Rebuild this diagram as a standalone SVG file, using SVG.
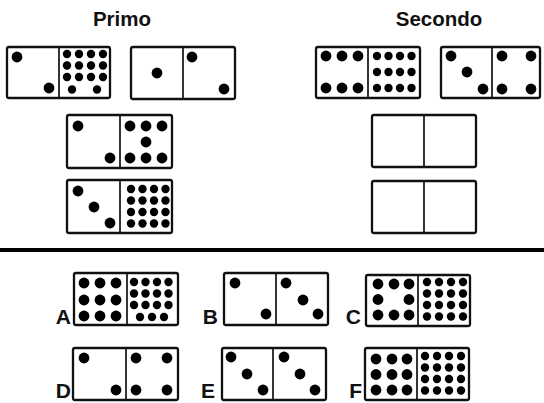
<svg xmlns="http://www.w3.org/2000/svg" width="544" height="403" viewBox="0 0 544 403">
<style>
.t{font-family:"Liberation Sans",Arial,sans-serif;font-weight:bold;fill:#111}
.h{font-size:20.5px;text-anchor:middle}
.l{font-size:21px;text-anchor:end}
.d{fill:#fff;stroke:#111;stroke-width:2.3}
.v{stroke:#111;stroke-width:1.7}
.p{fill:#000}
</style>
<rect width="544" height="403" fill="#fff"/>
<text class="t h" x="122" y="26">Primo</text>
<text class="t h" x="439" y="26">Secondo</text>
<line x1="0" y1="250" x2="544" y2="250" stroke="#000" stroke-width="4"/>

<g id="d1">
<rect class="d" x="7" y="47" width="103" height="51" rx="2"/><line class="v" x1="59" y1="47" x2="59" y2="98"/>
<g class="p"><circle cx="17" cy="57" r="5.4"/><circle cx="49" cy="88" r="5.4"/>
<circle cx="67" cy="54" r="4.2"/><circle cx="79" cy="54" r="4.2"/><circle cx="91" cy="54" r="4.2"/><circle cx="103" cy="54" r="4.2"/>
<circle cx="67" cy="65.5" r="4.2"/><circle cx="79" cy="65.5" r="4.2"/><circle cx="91" cy="65.5" r="4.2"/><circle cx="103" cy="65.5" r="4.2"/>
<circle cx="67" cy="77" r="4.2"/><circle cx="79" cy="77" r="4.2"/><circle cx="91" cy="77" r="4.2"/><circle cx="103" cy="77" r="4.2"/>
<circle cx="72" cy="89.5" r="4.2"/><circle cx="97" cy="89.5" r="4.2"/></g>
</g>

<g id="d2">
<rect class="d" x="131" y="47" width="104" height="52" rx="2"/><line class="v" x1="183" y1="47" x2="183" y2="99"/>
<g class="p"><circle cx="157" cy="73" r="5.4"/><circle cx="192" cy="57" r="5.4"/><circle cx="224" cy="89" r="5.4"/></g>
</g>

<g id="d3">
<rect class="d" x="316" y="47" width="104" height="51" rx="2"/><line class="v" x1="368" y1="47" x2="368" y2="98"/>
<g class="p"><circle cx="326" cy="56" r="5.4"/><circle cx="342" cy="56" r="5.4"/><circle cx="358" cy="56" r="5.4"/>
<circle cx="326" cy="88" r="5.4"/><circle cx="342" cy="88" r="5.4"/><circle cx="358" cy="88" r="5.4"/>
<circle cx="377" cy="56" r="4.2"/><circle cx="388.5" cy="56" r="4.2"/><circle cx="400" cy="56" r="4.2"/><circle cx="411.5" cy="56" r="4.2"/>
<circle cx="377" cy="72" r="4.2"/><circle cx="388.5" cy="72" r="4.2"/><circle cx="400" cy="72" r="4.2"/><circle cx="411.5" cy="72" r="4.2"/>
<circle cx="377" cy="88" r="4.2"/><circle cx="388.5" cy="88" r="4.2"/><circle cx="400" cy="88" r="4.2"/><circle cx="411.5" cy="88" r="4.2"/></g>
</g>

<g id="d4">
<rect class="d" x="441" y="47" width="99" height="51" rx="2"/><line class="v" x1="492" y1="47" x2="492" y2="98"/>
<g class="p"><circle cx="451" cy="56" r="5.4"/><circle cx="467" cy="72" r="5.4"/><circle cx="483" cy="89" r="5.4"/>
<circle cx="502" cy="56" r="5.4"/><circle cx="531" cy="56" r="5.4"/><circle cx="502" cy="89" r="5.4"/><circle cx="531" cy="89" r="5.4"/></g>
</g>

<g id="d5">
<rect class="d" x="67" y="115" width="105" height="53" rx="2"/><line class="v" x1="120" y1="115" x2="120" y2="168"/>
<g class="p"><circle cx="78" cy="126" r="5.4"/><circle cx="110" cy="158" r="5.4"/>
<circle cx="130" cy="126" r="5.4"/><circle cx="146" cy="126" r="5.4"/><circle cx="162" cy="126" r="5.4"/>
<circle cx="146" cy="142" r="5.4"/>
<circle cx="130" cy="158" r="5.4"/><circle cx="146" cy="158" r="5.4"/><circle cx="162" cy="158" r="5.4"/></g>
</g>

<g id="d6">
<rect class="d" x="67" y="180" width="105" height="53" rx="2"/><line class="v" x1="120" y1="180" x2="120" y2="233"/>
<g class="p"><circle cx="78" cy="191" r="5.4"/><circle cx="94" cy="207" r="5.4"/><circle cx="110" cy="223" r="5.4"/>
<circle cx="131" cy="189" r="4.2"/><circle cx="142.5" cy="189" r="4.2"/><circle cx="154" cy="189" r="4.2"/><circle cx="165.5" cy="189" r="4.2"/>
<circle cx="131" cy="200.5" r="4.2"/><circle cx="142.5" cy="200.5" r="4.2"/><circle cx="154" cy="200.5" r="4.2"/><circle cx="165.5" cy="200.5" r="4.2"/>
<circle cx="131" cy="212" r="4.2"/><circle cx="142.5" cy="212" r="4.2"/><circle cx="154" cy="212" r="4.2"/><circle cx="165.5" cy="212" r="4.2"/>
<circle cx="131" cy="223.5" r="4.2"/><circle cx="142.5" cy="223.5" r="4.2"/><circle cx="154" cy="223.5" r="4.2"/><circle cx="165.5" cy="223.5" r="4.2"/></g>
</g>

<g id="d7">
<rect class="d" x="372" y="115" width="104" height="52" rx="2"/><line class="v" x1="424" y1="115" x2="424" y2="167"/>
</g>

<g id="d8">
<rect class="d" x="372" y="181" width="104" height="52" rx="2"/><line class="v" x1="424" y1="181" x2="424" y2="233"/>
</g>

<g id="optA">
<text class="t l" x="71" y="324">A</text>
<rect class="d" x="74" y="273" width="104" height="52" rx="2"/><line class="v" x1="127" y1="273" x2="127" y2="325"/>
<g class="p"><circle cx="84" cy="283" r="5.4"/><circle cx="100" cy="283" r="5.4"/><circle cx="116" cy="283" r="5.4"/>
<circle cx="84" cy="300" r="5.4"/><circle cx="100" cy="300" r="5.4"/><circle cx="116" cy="300" r="5.4"/>
<circle cx="84" cy="316" r="5.4"/><circle cx="100" cy="316" r="5.4"/><circle cx="116" cy="316" r="5.4"/>
<circle cx="134" cy="282" r="4.2"/><circle cx="145.5" cy="282" r="4.2"/><circle cx="157" cy="282" r="4.2"/><circle cx="168.5" cy="282" r="4.2"/>
<circle cx="134" cy="293.5" r="4.2"/><circle cx="145.5" cy="293.5" r="4.2"/><circle cx="157" cy="293.5" r="4.2"/><circle cx="168.5" cy="293.5" r="4.2"/>
<circle cx="134" cy="305" r="4.2"/><circle cx="145.5" cy="305" r="4.2"/><circle cx="157" cy="305" r="4.2"/><circle cx="168.5" cy="305" r="4.2"/>
<circle cx="140" cy="317" r="4.2"/><circle cx="152" cy="317" r="4.2"/><circle cx="164" cy="317" r="4.2"/></g>
</g>

<g id="optB">
<text class="t l" x="218" y="324">B</text>
<rect class="d" x="224" y="273" width="104" height="52" rx="2"/><line class="v" x1="276" y1="273" x2="276" y2="325"/>
<g class="p"><circle cx="235" cy="283" r="5.4"/><circle cx="266" cy="314" r="5.4"/>
<circle cx="286" cy="283" r="5.4"/><circle cx="303" cy="300" r="5.4"/><circle cx="318" cy="314" r="5.4"/></g>
</g>

<g id="optC">
<text class="t l" x="361" y="324">C</text>
<rect class="d" x="366" y="275" width="104" height="51" rx="2"/><line class="v" x1="418" y1="275" x2="418" y2="326"/>
<g class="p"><circle cx="378" cy="284" r="5.4"/><circle cx="394" cy="284" r="5.4"/><circle cx="409" cy="284" r="5.4"/>
<circle cx="378" cy="299.5" r="5.4"/><circle cx="409" cy="299.5" r="5.4"/>
<circle cx="378" cy="315" r="5.4"/><circle cx="394" cy="315" r="5.4"/><circle cx="409" cy="315" r="5.4"/>
<circle cx="427" cy="282" r="4.2"/><circle cx="439" cy="282" r="4.2"/><circle cx="451" cy="282" r="4.2"/><circle cx="463" cy="282" r="4.2"/>
<circle cx="427" cy="293.5" r="4.2"/><circle cx="439" cy="293.5" r="4.2"/><circle cx="451" cy="293.5" r="4.2"/><circle cx="463" cy="293.5" r="4.2"/>
<circle cx="427" cy="305" r="4.2"/><circle cx="439" cy="305" r="4.2"/><circle cx="451" cy="305" r="4.2"/><circle cx="463" cy="305" r="4.2"/>
<circle cx="427" cy="316.5" r="4.2"/><circle cx="439" cy="316.5" r="4.2"/><circle cx="451" cy="316.5" r="4.2"/><circle cx="463" cy="316.5" r="4.2"/></g>
</g>

<g id="optD">
<text class="t l" x="71" y="398">D</text>
<rect class="d" x="73" y="348" width="105" height="52" rx="2"/><line class="v" x1="126" y1="348" x2="126" y2="400"/>
<g class="p"><circle cx="84" cy="358" r="5.4"/><circle cx="116" cy="390" r="5.4"/>
<circle cx="136" cy="358" r="5.4"/><circle cx="167" cy="358" r="5.4"/><circle cx="136" cy="390" r="5.4"/><circle cx="167" cy="390" r="5.4"/></g>
</g>

<g id="optE">
<text class="t l" x="215" y="398">E</text>
<rect class="d" x="222" y="348" width="104" height="52" rx="2"/><line class="v" x1="273" y1="348" x2="273" y2="400"/>
<g class="p"><circle cx="231" cy="357" r="5.4"/><circle cx="247" cy="374" r="5.4"/><circle cx="263" cy="390" r="5.4"/>
<circle cx="284" cy="357" r="5.4"/><circle cx="300" cy="374" r="5.4"/><circle cx="315" cy="390" r="5.4"/></g>
</g>

<g id="optF">
<text class="t l" x="362" y="398">F</text>
<rect class="d" x="365" y="348" width="104" height="52" rx="2"/><line class="v" x1="417" y1="348" x2="417" y2="400"/>
<g class="p"><circle cx="376" cy="359" r="5.4"/><circle cx="392" cy="359" r="5.4"/><circle cx="407" cy="359" r="5.4"/>
<circle cx="376" cy="374.5" r="5.4"/><circle cx="392" cy="374.5" r="5.4"/><circle cx="407" cy="374.5" r="5.4"/>
<circle cx="376" cy="390" r="5.4"/><circle cx="392" cy="390" r="5.4"/><circle cx="407" cy="390" r="5.4"/>
<circle cx="425" cy="356" r="4.2"/><circle cx="437" cy="356" r="4.2"/><circle cx="449" cy="356" r="4.2"/><circle cx="461" cy="356" r="4.2"/>
<circle cx="425" cy="367.5" r="4.2"/><circle cx="437" cy="367.5" r="4.2"/><circle cx="449" cy="367.5" r="4.2"/><circle cx="461" cy="367.5" r="4.2"/>
<circle cx="425" cy="379" r="4.2"/><circle cx="437" cy="379" r="4.2"/><circle cx="449" cy="379" r="4.2"/><circle cx="461" cy="379" r="4.2"/>
<circle cx="425" cy="390.5" r="4.2"/><circle cx="437" cy="390.5" r="4.2"/><circle cx="449" cy="390.5" r="4.2"/><circle cx="461" cy="390.5" r="4.2"/></g>
</g>
</svg>
